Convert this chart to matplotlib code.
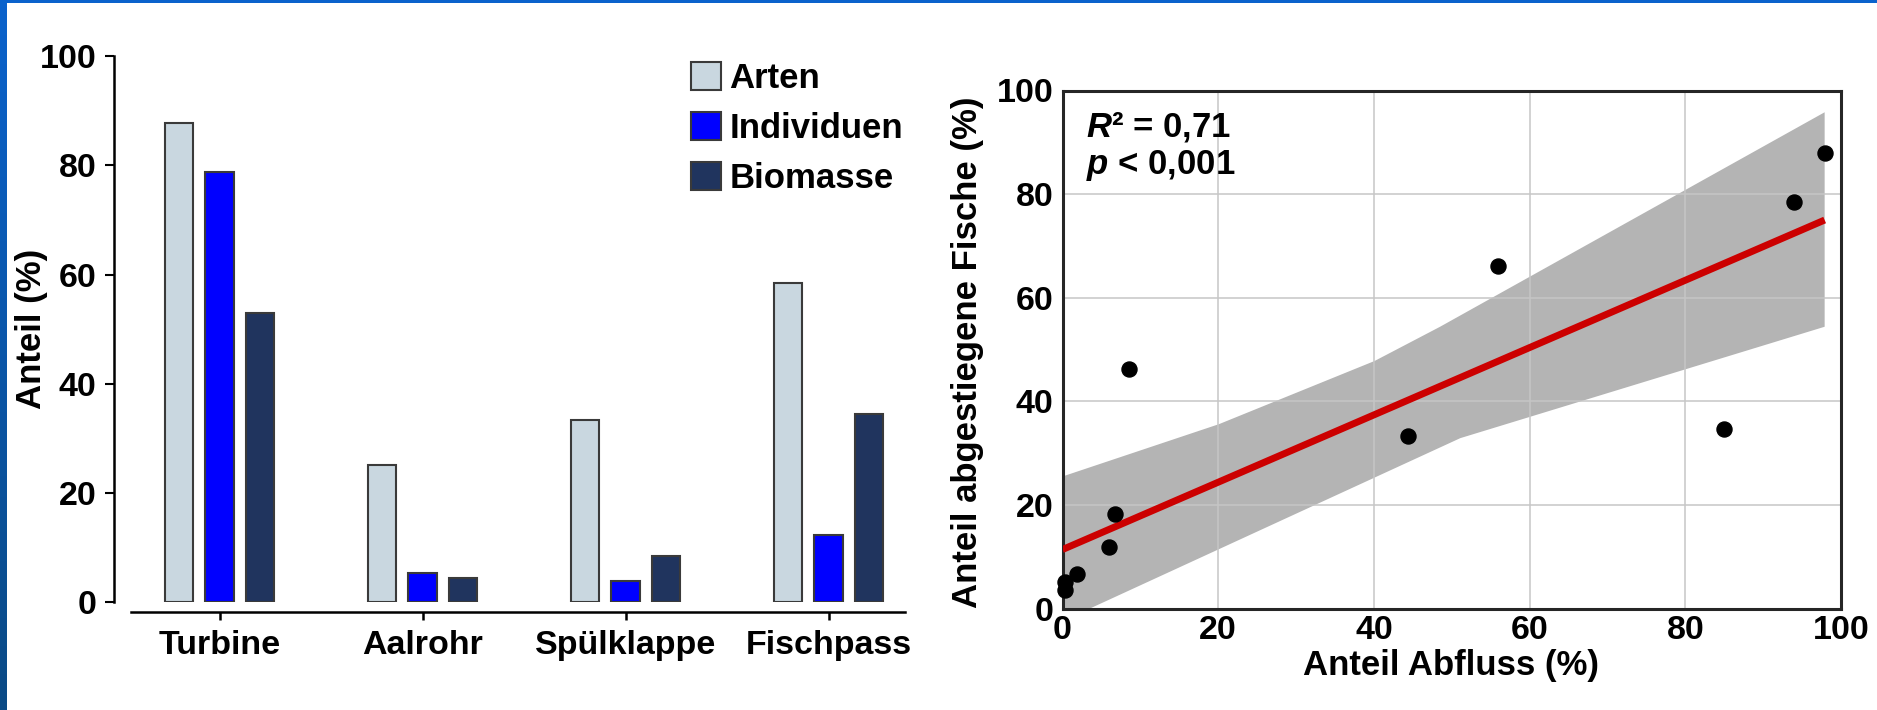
import numpy as np
import matplotlib
matplotlib.use('Agg')
import matplotlib.pyplot as plt
from matplotlib.patches import Rectangle
from matplotlib.colors import LinearSegmentedColormap

plt.rcParams['font.family'] = 'Liberation Sans'
plt.rcParams['font.weight'] = 'bold'
plt.rcParams['mathtext.fontset'] = 'custom'
plt.rcParams['mathtext.it'] = 'Liberation Sans:italic:bold'
plt.rcParams['mathtext.rm'] = 'Liberation Sans:bold'

W, H = 1877, 710
def fx(px): return px / W
def fy(py): return 1 - py / H

# --- data: left panel (bar chart) ---
categories = ['Turbine', 'Aalrohr', 'Spülklappe', 'Fischpass']
series_names = ['Arten', 'Individuen', 'Biomasse']
arten = [87.7, 25.1, 33.4, 58.4]
individuen = [78.8, 5.3, 3.9, 12.3]
biomasse = [52.9, 4.5, 8.5, 34.4]

# --- data: right panel (scatter + regression) ---
abfluss = [97.9, 94.0, 56.0, 8.5, 85.0, 44.4, 6.7, 6.0, 1.9, 0.3, 0.3]
fische = [88.0, 78.4, 66.1, 46.3, 34.6, 33.3, 18.2, 11.8, 6.6, 5.2, 3.6]
fit_x = [0, 97.9]
fit_y = [11.4, 75.0]
# confidence band edges
upper_x = [0, 20.1, 40.1, 48.5, 97.9]
upper_y = [25.5, 35.6, 47.8, 54.4, 95.8]
lower_x = [0, 3.5, 51.1, 97.9]
lower_y = [-2.4, 0, 32.9, 54.4]

colors = ['#c9d7e0', '#0000ff', '#20345e']

fig = plt.figure(figsize=(W / 100, H / 100), dpi=100)

# blue frame on the left / top edge
grad = LinearSegmentedColormap.from_list('edge', ['#0a62cc', '#0b4a85'])
axb = fig.add_axes([0, 0, fx(7), 1])
axb.imshow(np.linspace(0, 1, 100).reshape(-1, 1), aspect='auto', cmap=grad)
axb.axis('off')
fig.add_artist(Rectangle((0, fy(3)), 1, 3 / H, transform=fig.transFigure,
                         color='#0a62cc', lw=0))

# ---------------- left panel ----------------
ax1 = fig.add_axes([fx(114), fy(602.3), (905 - 114) / W, (602.3 - 56.1) / H])
x = np.arange(len(categories))
for i, (vals, name) in enumerate(zip([arten, individuen, biomasse], series_names)):
    ax1.bar(x + (i - 1) * 0.2, vals, 0.14, color=colors[i], edgecolor='#3a3a3a',
            linewidth=1.5, label=name)

ax1.set_xlim(-0.52, 3.376)
ax1.set_ylim(0, 100)
ax1.spines['top'].set_visible(False)
ax1.spines['right'].set_visible(False)
ax1.spines['left'].set_bounds(0, 100)
ax1.spines['bottom'].set_position(('outward', 6.8))
ax1.spines['bottom'].set_bounds(-0.436, 3.376)
for s in ['left', 'bottom']:
    ax1.spines[s].set_linewidth(1.8)
ax1.set_yticks([0, 20, 40, 60, 80, 100])
ax1.set_xticks(x)
ax1.set_xticklabels(categories)
ax1.tick_params(axis='y', length=6.5, width=1.5, labelsize=24.5, pad=6)
ax1.tick_params(axis='x', length=6, width=1.8, labelsize=24.5, pad=7)
ax1.patch.set_alpha(0)

ax1.legend(loc='upper left', bbox_to_anchor=(fx(691), fy(62)),
           bbox_transform=fig.transFigure, frameon=False, fontsize=25,
           handlelength=0.86, handleheight=0.84, handletextpad=0.25,
           labelspacing=0.49, borderpad=0, borderaxespad=0)

fig.text(fx(31), fy(329), 'Anteil (%)', rotation=90, ha='center', va='center',
         fontsize=25)

# ---------------- right panel ----------------
ax2 = fig.add_axes([fx(1062.5), fy(608.6), (1841 - 1062.5) / W, (608.6 - 90.5) / H])
ax2.set_axisbelow(True)
ax2.grid(True, color='#c6c6c6', lw=1.1)
ax2.fill(upper_x + lower_x[::-1], upper_y + lower_y[::-1], color='#b4b4b4',
         lw=0, zorder=0.4)
ax2.plot(fit_x, fit_y, color='#cc0000', lw=5, solid_capstyle='butt', zorder=3)
ax2.scatter(abfluss, fische, s=117, color='black', zorder=4, clip_on=False)
ax2.set_xlim(0, 100)
ax2.set_ylim(0, 100)
ax2.set_xticks([0, 20, 40, 60, 80, 100])
ax2.set_yticks([0, 20, 40, 60, 80, 100])
for s in ax2.spines.values():
    s.set_linewidth(2.2)
    s.set_color('#262626')
ax2.tick_params(length=0, labelsize=24.5)
ax2.tick_params(axis='y', pad=6.5)
ax2.tick_params(axis='x', pad=4.5)

fig.text(fx(1086), fy(136), r'$R$² = 0,71', fontsize=25, va='baseline')
fig.text(fx(1086), fy(174), r'$p$ < 0,001', fontsize=25, va='baseline')

fig.text(fx(968), fy(352), 'Anteil abgestiegene Fische (%)', rotation=90,
         ha='center', va='center', fontsize=25)
fig.text(fx(1451), fy(665), 'Anteil Abfluss (%)', ha='center', va='center',
         fontsize=25)

fig.savefig('out.png', dpi=100)
